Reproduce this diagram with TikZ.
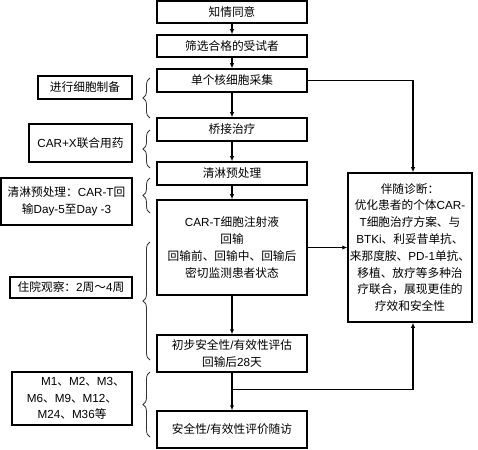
\documentclass[tikz,border=0pt]{standalone}
\usepackage{fontspec}
\setmainfont{Noto Sans CJK SC}
\newfontfamily\latinfont{Liberation Sans}
\newcommand{\lt}[1]{{\latinfont #1}}
\usetikzlibrary{arrows.meta,decorations.pathreplacing,calc}
\begin{document}
\begin{tikzpicture}[x=1bp,y=-1bp,
  box/.style={draw=black,line width=1.5bp,inner sep=0pt,align=center,
    font=\fontsize{11.7bp}{16.8bp}\selectfont},
  arr/.style={draw=black,line width=1.1bp,-{Latex[length=5bp,width=4.5bp]}},
  brc/.style={draw=black!80,line width=0.8bp,decorate,decoration={brace,amplitude=7bp}}]
\useasboundingbox (0,0) rectangle (478,450);
% main column
\node[box,minimum width=150bp,minimum height=22bp] (b1) at (232,12) {知情同意};
\node[box,minimum width=150bp,minimum height=22bp] (b2) at (232,46) {筛选合格的受试者};
\node[box,minimum width=150bp,minimum height=23bp] (b3) at (232,80.5) {单个核细胞采集};
\node[box,minimum width=150bp,minimum height=23bp] (b4) at (232,129.5) {桥接治疗};
\node[box,minimum width=150bp,minimum height=23bp] (b5) at (232,173.5) {清淋预处理};
\node[box,minimum width=150bp,minimum height=95bp] (b6) at (232,247.5) {\lt{CAR-T}细胞注射液\\回输\\回输前、回输中、回输后\\密切监测患者状态};
\node[box,minimum width=150bp,minimum height=37bp] (b7) at (232,353.5) {初步安全性\lt{/}有效性评估\\回输后\lt{28}天};
\node[box,minimum width=150bp,minimum height=37bp] (b8) at (232,429.5) {安全性\lt{/}有效性评价随访};
% right box
\node[box,minimum width=124bp,minimum height=149bp] (r) at (410,247.5) {伴随诊断：\\优化患者的个体\lt{CAR-}\\\lt{T}细胞治疗方案、与\\\lt{BTKi}、利妥昔单抗、\\来那度胺、\lt{PD-1}单抗、\\移植、放疗等多种治\\疗联合，展现更佳的\\疗效和安全性};
% left boxes
\node[box,minimum width=94bp,minimum height=23bp] (l1) at (85,87.5) {进行细胞制备};
\node[box,minimum width=103bp,minimum height=38bp] (l2) at (80.5,143) {\lt{CAR+X}联合用药};
\node[box,minimum width=131bp,minimum height=47bp] (l3) at (66.5,201.5) {清淋预处理：\lt{CAR-T}回\\输\lt{Day-5}至\lt{Day -3}};
\node[box,minimum width=122bp,minimum height=21bp] (l4) at (71,287.5) {住院观察：\lt{2}周～\lt{4}周};
\node[box,minimum width=120bp,minimum height=53bp] (l5) at (72,398.5) {\hspace*{22bp}\lt{M1}、\lt{M2}、\lt{M3}、\\\lt{M6}、\lt{M9}、\lt{M12}、\\\lt{M24}、\lt{M36}等};
% braces
\draw[brc] (150,118) -- (150,78);
\draw[brc] (150,168) -- (150,130);
\draw[brc] (150,213) -- (150,178);
\draw[brc] (150,360) -- (150,242);
\draw[brc] (150,437) -- (150,372);
% connectors
\draw[arr] (b1) -- (b2);
\draw[arr] (b2) -- (b3);
\draw[arr] (b3) -- (b4);
\draw[arr] (b4) -- (b5);
\draw[arr] (b5) -- (b6);
\draw[arr] (b6) -- (b7);
\draw[arr] (b7) -- (b8);
\draw[arr] (b3.east) -| ([xshift=3bp]r.north);
\draw[arr] (b6.east) -- (r.west);
\coordinate (j) at ($(b7.south)+(0,17)$);
\draw[arr] (j) -| ([xshift=3bp]r.south);
\end{tikzpicture}
\end{document}
